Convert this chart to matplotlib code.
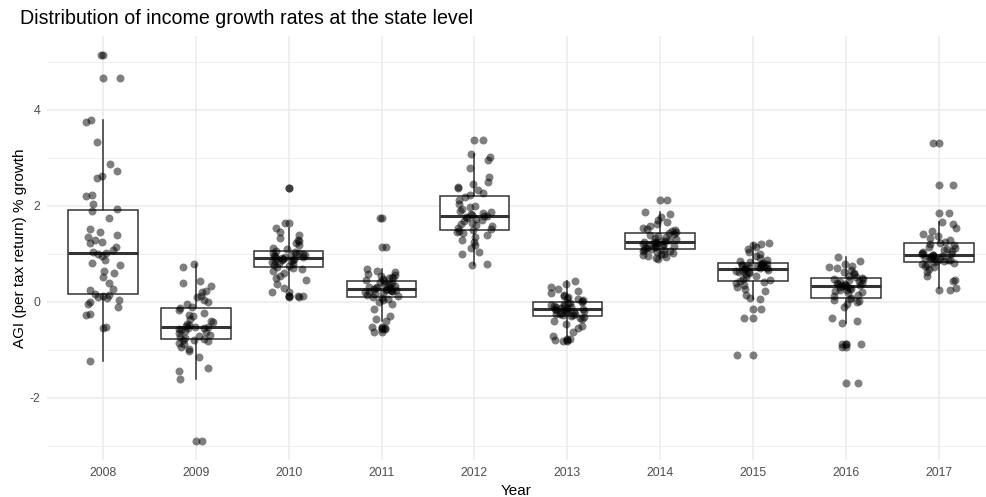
import numpy as np
import matplotlib
matplotlib.use("Agg")
import matplotlib.pyplot as plt
from matplotlib.ticker import MultipleLocator

plt.rcParams['font.family'] = ['Liberation Sans', 'DejaVu Sans']

years = ["2008", "2009", "2010", "2011", "2012", "2013", "2014", "2015", "2016", "2017"]

# State-level AGI (per tax return) growth, percent
g2008 = [-1.23, -0.55, -0.52, -0.27, -0.24, -0.10, -0.05, 0.00, 0.05, 0.08, 0.10, 0.13, 0.15,
         0.17, 0.26, 0.28, 0.40, 0.52, 0.60, 0.65, 0.77, 0.82, 0.87, 0.95, 1.00,
         1.03,
         1.05, 1.08, 1.15, 1.23, 1.24, 1.30, 1.35, 1.39, 1.45, 1.52, 1.75, 1.90,
         1.93,
         2.04, 2.20, 2.22, 2.58, 2.62, 2.73, 2.87, 3.33, 3.76, 3.80, 4.67, 5.15]
g2009 = [-2.90, -1.60, -1.43, -1.38, -1.15, -1.02, -0.97, -0.93, -0.88, -0.85, -0.82, -0.80, -0.79,
         -0.77, -0.75, -0.72, -0.70, -0.68, -0.65, -0.62, -0.60, -0.58, -0.57, -0.55, -0.54,
         -0.53,
         -0.52, -0.50, -0.48, -0.45, -0.42, -0.40, -0.36, -0.30, -0.27, -0.22, -0.17, -0.13,
         -0.11,
         -0.05, 0.00, 0.05, 0.10, 0.12, 0.20, 0.22, 0.33, 0.39, 0.43, 0.72, 0.79]
g2010 = [0.10, 0.12, 0.13, 0.20, 0.30, 0.38, 0.45, 0.50, 0.55, 0.60, 0.65, 0.69, 0.71,
         0.73, 0.75, 0.78, 0.80, 0.82, 0.84, 0.85, 0.86, 0.87, 0.88, 0.89, 0.90,
         0.91,
         0.92, 0.93, 0.94, 0.95, 0.96, 0.97, 0.98, 0.99, 1.00, 1.02, 1.03, 1.05,
         1.07,
         1.10, 1.13, 1.18, 1.22, 1.27, 1.30, 1.33, 1.40, 1.45, 1.54, 1.65, 2.38]
g2011 = [-0.62, -0.57, -0.55, -0.52, -0.40, -0.35, -0.30, -0.15, -0.05, 0.00, 0.04, 0.07, 0.09,
         0.11, 0.13, 0.15, 0.17, 0.18, 0.20, 0.21, 0.22, 0.23, 0.24, 0.25, 0.26,
         0.27,
         0.28, 0.29, 0.30, 0.31, 0.32, 0.34, 0.35, 0.37, 0.38, 0.40, 0.42, 0.43,
         0.45,
         0.47, 0.49, 0.50, 0.52, 0.54, 0.56, 0.58, 0.62, 0.65, 0.69, 1.15, 1.74]
g2012 = [0.77, 0.79, 1.00, 1.05, 1.12, 1.18, 1.25, 1.30, 1.35, 1.40, 1.44, 1.46, 1.48,
         1.50, 1.52, 1.55, 1.58, 1.60, 1.63, 1.65, 1.68, 1.70, 1.73, 1.75, 1.77,
         1.79,
         1.80, 1.82, 1.84, 1.86, 1.88, 1.90, 1.93, 1.97, 2.00, 2.05, 2.12, 2.19,
         2.23,
         2.27, 2.33, 2.38, 2.40, 2.45, 2.50, 2.60, 2.80, 2.95, 3.03, 3.08, 3.38]
g2013 = [-0.82, -0.80, -0.77, -0.70, -0.62, -0.55, -0.50, -0.45, -0.40, -0.36, -0.33, -0.31, -0.30,
         -0.28, -0.27, -0.26, -0.25, -0.24, -0.22, -0.21, -0.20, -0.19, -0.18, -0.17, -0.16,
         -0.15,
         -0.14, -0.13, -0.12, -0.11, -0.10, -0.09, -0.08, -0.06, -0.05, -0.03, -0.02, 0.00,
         0.02,
         0.04, 0.06, 0.08, 0.10, 0.12, 0.15, 0.18, 0.22, 0.27, 0.32, 0.38, 0.44]
g2014 = [0.90, 0.92, 0.93, 0.95, 0.97, 0.99, 1.01, 1.03, 1.05, 1.06, 1.07, 1.08, 1.09,
         1.11, 1.12, 1.13, 1.14, 1.15, 1.16, 1.17, 1.18, 1.19, 1.20, 1.21, 1.22,
         1.24,
         1.25, 1.26, 1.27, 1.28, 1.30, 1.31, 1.33, 1.35, 1.37, 1.39, 1.41, 1.43,
         1.45,
         1.47, 1.50, 1.53, 1.55, 1.58, 1.62, 1.66, 1.70, 1.78, 1.83, 1.87, 2.13]
g2015 = [-1.10, -0.34, -0.15, 0.06, 0.08, 0.15, 0.22, 0.28, 0.32, 0.36, 0.39, 0.41, 0.43,
         0.45, 0.48, 0.52, 0.55, 0.58, 0.60, 0.62, 0.63, 0.64, 0.65, 0.67, 0.68,
         0.69,
         0.70, 0.71, 0.72, 0.73, 0.74, 0.75, 0.76, 0.77, 0.78, 0.79, 0.80, 0.80,
         0.82,
         0.84, 0.86, 0.88, 0.92, 0.95, 1.00, 1.05, 1.10, 1.14, 1.18, 1.20, 1.23]
g2016 = [-1.68, -0.93, -0.88, -0.87, -0.43, -0.40, -0.34, -0.10, -0.05, 0.00, 0.03, 0.05, 0.07,
         0.09, 0.12, 0.15, 0.18, 0.20, 0.22, 0.24, 0.26, 0.28, 0.30, 0.31, 0.32,
         0.33,
         0.34, 0.35, 0.36, 0.37, 0.38, 0.39, 0.40, 0.42, 0.44, 0.45, 0.47, 0.48,
         0.50,
         0.52, 0.55, 0.58, 0.60, 0.62, 0.66, 0.70, 0.73, 0.76, 0.80, 0.86, 0.93]
g2017 = [0.26, 0.29, 0.44, 0.46, 0.55, 0.62, 0.68, 0.72, 0.75, 0.78, 0.80, 0.82, 0.83,
         0.85, 0.86, 0.87, 0.88, 0.89, 0.90, 0.91, 0.92, 0.93, 0.94, 0.95, 0.96,
         0.97,
         0.98, 0.99, 1.00, 1.02, 1.04, 1.06, 1.08, 1.10, 1.12, 1.15, 1.18, 1.21,
         1.23,
         1.26, 1.30, 1.33, 1.38, 1.42, 1.48, 1.55, 1.62, 1.67, 1.85, 2.44, 3.31]

growth = [g2008, g2009, g2010, g2011, g2012, g2013, g2014, g2015, g2016, g2017]

fig = plt.figure(figsize=(9.86, 4.97), dpi=100)
ax = fig.add_axes([47 / 986, (497 - 460.4) / 497, 939 / 986, (460.4 - 35.6) / 497])

grid_c = "#EBEBEB"
ax.set_axisbelow(True)
ax.yaxis.set_major_locator(MultipleLocator(2))
ax.yaxis.set_minor_locator(MultipleLocator(1))
ax.grid(True, which="major", color=grid_c, linewidth=1.1)
ax.grid(True, which="minor", axis="y", color=grid_c, linewidth=0.55)

positions = np.arange(1, len(years) + 1)
box_c = "#333333"
ax.boxplot(growth, positions=positions, widths=0.75, patch_artist=True,
           boxprops=dict(facecolor="white", edgecolor=box_c, linewidth=1.1),
           whiskerprops=dict(color=box_c, linewidth=1.1),
           capprops=dict(linewidth=0),
           medianprops=dict(color=box_c, linewidth=2.2),
           flierprops=dict(marker="o", markerfacecolor="black", markeredgecolor="none",
                           markersize=5.8, alpha=0.5),
           zorder=2)

# Jittered state points
rng = np.random.default_rng(11)
for pos, vals in zip(positions, growth):
    xs = pos + rng.uniform(-0.19, 0.19, len(vals))
    ax.scatter(xs, vals, s=33, color="black", alpha=0.5, linewidths=0, zorder=3)

ax.set_xlim(0.4, 10.505)
ax.set_ylim(-3.30, 5.55)
ax.set_xticks(positions)
ax.set_xticklabels(years)
ax.set_yticks([-2, 0, 2, 4])
ax.set_yticklabels(["-2", "0", "2", "4"])
ax.tick_params(which="both", length=0, labelsize=8.8, labelcolor="#4D4D4D")
ax.tick_params(axis="x", pad=5)
ax.tick_params(axis="y", pad=5)
for s in ax.spines.values():
    s.set_visible(False)

ax.set_xlabel("Year", fontsize=11, labelpad=3)
ax.set_ylabel("AGI (per tax return) % growth", fontsize=11, labelpad=2)
fig.text(20 / 986, 1 - 18 / 497, "Distribution of income growth rates at the state level",
         fontsize=14.1, va="center", ha="left")

fig.savefig("out.png", dpi=100)
